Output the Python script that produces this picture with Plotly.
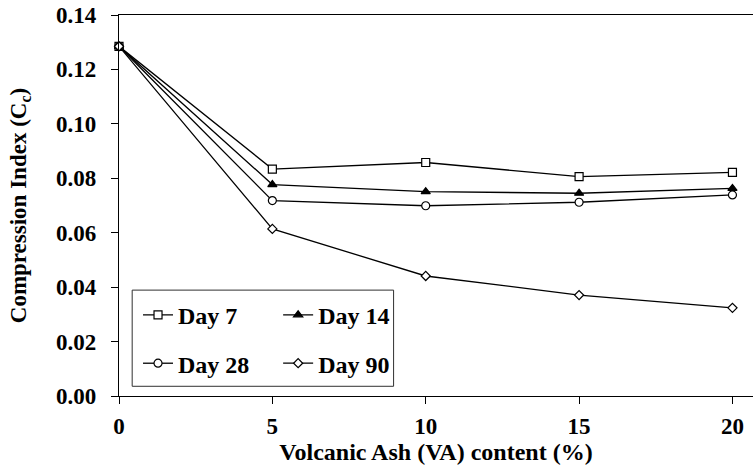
import plotly.graph_objects as go

# Volcanic ash content (%) and compression index per curing age
va_content = [0, 5, 10, 15, 20]
day7 = [0.1285, 0.0834, 0.0858, 0.0806, 0.0822]
day14 = [0.1285, 0.0777, 0.0751, 0.0745, 0.0763]
day28 = [0.1285, 0.0718, 0.0699, 0.0712, 0.0739]
day90 = [0.1285, 0.0614, 0.0441, 0.0371, 0.0324]

series_names = ["Day 7", "Day 14", "Day 28", "Day 90"]
x_ticks = [0, 5, 10, 15, 20]
y_ticks = [0.00, 0.02, 0.04, 0.06, 0.08, 0.10, 0.12, 0.14]

FONT = "Liberation Serif"

styles = [
    dict(symbol="square", size=8, color="white"),
    dict(symbol="triangle-up", size=8, color="black"),
    dict(symbol="circle", size=8, color="white"),
    dict(symbol="diamond", size=7, color="white"),
]
legend_ids = ["legend", "legend2", "legend3", "legend4"]

fig = go.Figure()
for name, ys, st, lg in zip(series_names, [day7, day14, day28, day90], styles, legend_ids):
    fig.add_trace(go.Scatter(
        x=va_content, y=ys, name=f"<b>{name}</b>", mode="lines+markers",
        line=dict(color="black", width=1.3),
        marker=dict(symbol=st["symbol"], size=st["size"], color=st["color"],
                    line=dict(color="black", width=1.2)),
        legend=lg, cliponaxis=False,
    ))

# legend entries arranged in a 2x2 grid inside a framed box
leg_pos = {"legend": (0.030, 0.212), "legend2": (0.251, 0.212),
           "legend3": (0.030, 0.085), "legend4": (0.251, 0.085)}
leg_common = dict(xanchor="left", yanchor="middle", bgcolor="rgba(0,0,0,0)",
                  borderwidth=0,
                  font=dict(family=FONT, size=24, color="black", weight="bold"),
                  itemwidth=30)
layout_legends = {k: dict(x=v[0], y=v[1], **leg_common) for k, v in leg_pos.items()}

fig.update_layout(
    width=753, height=470,
    margin=dict(l=118.5, r=0, t=15.3, b=74.3),
    plot_bgcolor="white", paper_bgcolor="white",
    font=dict(family=FONT, size=23, color="black"),
    showlegend=True,
    shapes=[dict(type="rect", xref="paper", yref="paper",
                 x0=0.0208, x1=0.4331, y0=0.0255, y1=0.2779,
                 line=dict(color="#303030", width=1), fillcolor="white",
                 layer="below")],
    **layout_legends,
)

fig.update_xaxes(
    range=[0, 20.67], tickvals=x_ticks, ticktext=[f"<b>{v}</b>" for v in x_ticks],
    showgrid=False, zeroline=False, showline=True, linecolor="black", linewidth=1.3,
    mirror=True, ticks="outside", ticklen=7, tickwidth=1, tickcolor="black",
    tickfont=dict(family=FONT, size=23, color="black", weight="bold"),
    ticklabelstandoff=2,
    title=dict(text="<b>Volcanic Ash (VA) content (%)</b>", standoff=5,
               font=dict(family=FONT, size=24, color="black", weight="bold")),
)
fig.update_yaxes(
    range=[0, 0.14], tickvals=y_ticks, ticktext=[f"<b>{v:.2f}</b>" for v in y_ticks],
    showgrid=False, zeroline=False, showline=True, linecolor="black", linewidth=1.3,
    ticks="outside", ticklen=7, tickwidth=1, tickcolor="black",
    tickfont=dict(family=FONT, size=23, color="black", weight="bold"),
    ticklabelstandoff=10,
    title=dict(text="<b>Compression Index (C<sub>c</sub>)</b>", standoff=22,
               font=dict(family=FONT, size=23, color="black", weight="bold")),
)

fig.write_html("out.html")
